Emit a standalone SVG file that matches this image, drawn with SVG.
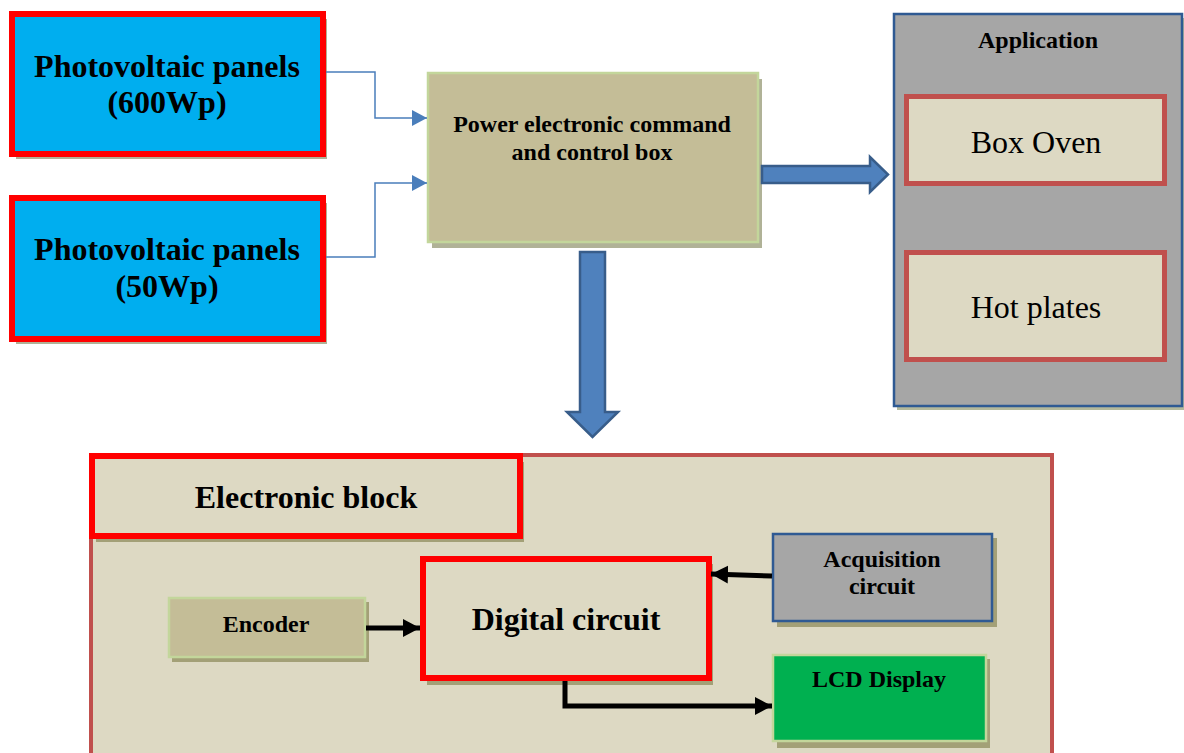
<svg xmlns="http://www.w3.org/2000/svg" width="1184" height="753" viewBox="0 0 1184 753">
<style>
.t{font-family:"Liberation Serif","Times New Roman",serif;text-anchor:middle;fill:#000}
.b{font-weight:bold}
.shadow{fill:#8f8c5e;opacity:0.75}
.shadowL{fill:#a7aa8c;opacity:0.9}
.pv{fill:#00aeef;stroke:#ff0000;stroke-width:6}
.olive{fill:#c4bd97;stroke:#c3d69b;stroke-width:2.5}
.beige{fill:#ddd9c3}
.thin{fill:none;stroke:#4a7ebb;stroke-width:1.5}
.blk{fill:none;stroke:#000;stroke-width:5}
.fat{fill:#4f81bd;stroke:#385d8a;stroke-width:2.5;stroke-linejoin:miter}
</style>
<defs>
<marker id="ab" markerUnits="userSpaceOnUse" markerWidth="16" markerHeight="18" refX="15" refY="8" orient="auto">
<path d="M0,0 L15,8 L0,16 Z" fill="#4a7ebb"/>
</marker>
<marker id="ak" markerUnits="userSpaceOnUse" markerWidth="18" markerHeight="20" refX="17" refY="9" orient="auto">
<path d="M0,0 L17,9 L0,18 Z" fill="#000"/>
</marker>
</defs>
<rect width="1184" height="753" fill="#fff"/>

<g id="pv600">
<rect class="shadowL" x="16" y="19" width="311" height="140"/>
<rect class="pv" x="12" y="14" width="311" height="140"/>
<text class="t b" x="167" y="77" font-size="32">Photovoltaic panels</text>
<text class="t b" x="167" y="113" font-size="32">(600Wp)</text>
</g>

<g id="pv50">
<rect class="shadowL" x="16" y="203" width="311" height="141"/>
<rect class="pv" x="12" y="198" width="311" height="141"/>
<text class="t b" x="167" y="260" font-size="32">Photovoltaic panels</text>
<text class="t b" x="167" y="297" font-size="32">(50Wp)</text>
</g>

<g id="power">
<rect class="shadowL" x="432" y="79" width="330" height="169"/>
<rect class="olive" x="428" y="73" width="330" height="169"/>
<text class="t b" x="592" y="132" font-size="24">Power electronic command</text>
<text class="t b" x="592" y="160" font-size="24">and control box</text>
</g>

<g id="application">
<rect fill="#b4b99b" x="897" y="18" width="288" height="392"/>
<rect fill="#a6a6a6" stroke="#2f5a93" stroke-width="2.5" x="894" y="14" width="288" height="392"/>
<text class="t b" x="1038" y="48" font-size="24">Application</text>
<g id="boxoven">
<rect class="beige" stroke="#c0504d" stroke-width="5" x="906.5" y="96.5" width="258" height="87"/>
<text class="t" x="1036" y="153" font-size="32">Box Oven</text>
</g>
<g id="hotplates">
<rect class="beige" stroke="#c0504d" stroke-width="5" x="906.5" y="252.5" width="258" height="107"/>
<text class="t" x="1036" y="318" font-size="32">Hot plates</text>
</g>
</g>

<g id="electronic-block">
<rect class="beige" stroke="#c0504d" stroke-width="4" x="91" y="455" width="961" height="330"/>
<g id="eb-title">
<rect class="shadow" x="96" y="462" width="428" height="80"/>
<rect class="beige" stroke="#ff0000" stroke-width="6" x="92" y="456" width="428" height="80"/>
<text class="t b" x="306" y="508" font-size="32">Electronic block</text>
</g>
</g>

<g id="encoder">
<rect class="shadow" x="172" y="602" width="197" height="60"/>
<rect class="olive" x="169" y="598" width="196" height="59"/>
<text class="t b" x="266" y="632" font-size="24">Encoder</text>
</g>

<g id="digital">
<rect class="shadow" x="427" y="564" width="286" height="121"/>
<rect class="beige" stroke="#ff0000" stroke-width="6" x="423" y="559" width="286" height="119"/>
<text class="t b" x="566" y="630" font-size="32">Digital circuit</text>
</g>

<g id="acquisition">
<rect class="shadow" x="777" y="538" width="220" height="89"/>
<rect fill="#a6a6a6" stroke="#2f5a93" stroke-width="2.5" x="773" y="534" width="219" height="87"/>
<text class="t b" x="882" y="567" font-size="24">Acquisition</text>
<text class="t b" x="882" y="594" font-size="24">circuit</text>
</g>

<g id="lcd">
<rect class="shadow" x="777" y="659" width="213" height="89"/>
<rect fill="#00b050" stroke="#c3d69b" stroke-width="2.5" x="773" y="655" width="213" height="86"/>
<text class="t b" x="879" y="687" font-size="24">LCD Display</text>
</g>

<g id="connectors">
<path class="thin" d="M326,72 H375 V118 H427" marker-end="url(#ab)"/>
<path class="thin" d="M326,257 H375 V183 H427" marker-end="url(#ab)"/>
<path class="fat" d="M762,166 H870 V157 L888,174.5 L870,192 V183 H762 Z"/>
<path class="fat" d="M580,252 H605 V412 H618 L592.5,437 L567,412 H580 Z"/>
<path class="blk" d="M366,628 H420" marker-end="url(#ak)"/>
<path class="blk" d="M772,576 L711,574" marker-end="url(#ak)"/>
<path class="blk" d="M565,681 V706 H772" marker-end="url(#ak)"/>
</g>
</svg>
